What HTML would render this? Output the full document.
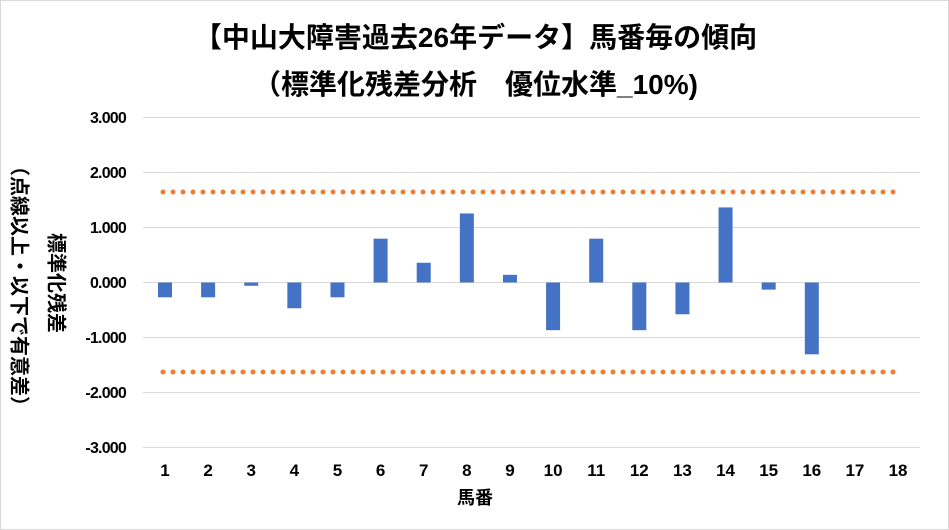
<!DOCTYPE html>
<html><head><meta charset="utf-8"><style>
body{margin:0;background:#fff}
.c{position:relative;width:947px;height:528px;border:1px solid #d9d9d9;overflow:hidden;font-family:"Liberation Sans","Noto Sans CJK JP",sans-serif;font-weight:bold;color:#000}
.t{position:absolute;left:0;width:949px;text-align:center;font-size:28px;line-height:32px}
.v{position:absolute;writing-mode:vertical-rl;text-orientation:sideways;font-size:20px;transform:translate(-50%,-50%);white-space:nowrap}
</style></head><body><div class="c">
<div class="t" style="top:21px">【中山大障害過去26年データ】馬番毎の傾向</div>
<div class="t" style="top:68px">（標準化残差分析　優位水準_10%)</div>
<div class="v" style="left:20px;top:285px">（点線以上・以下で有意差）</div>
<div class="v" style="left:57px;top:282px">標準化残差</div>
<svg width="949" height="530" style="position:absolute;left:-1px;top:-1px" font-family="Liberation Sans, Noto Sans CJK JP, sans-serif" font-weight="bold">
<g stroke="#d9d9d9" stroke-width="1">
<line x1="143" x2="920" y1="117.5" y2="117.5"/><line x1="143" x2="920" y1="172.5" y2="172.5"/><line x1="143" x2="920" y1="227.5" y2="227.5"/><line x1="143" x2="920" y1="282.5" y2="282.5"/><line x1="143" x2="920" y1="337.5" y2="337.5"/><line x1="143" x2="920" y1="392.5" y2="392.5"/><line x1="143" x2="920" y1="447.5" y2="447.5"/>
</g>
<g font-size="16" text-anchor="end" letter-spacing="-0.8">
<text x="126" y="123">3.000</text><text x="126" y="178">2.000</text><text x="126" y="233">1.000</text><text x="126" y="288">0.000</text><text x="126" y="343">-1.000</text><text x="126" y="398">-2.000</text><text x="126" y="453">-3.000</text>
</g>
<g id="bars" fill="#4472c4"></g>
<line x1="163" x2="900" y1="192" y2="192" stroke="#ed7d31" stroke-width="5" stroke-linecap="round" stroke-dasharray="0 10"/>
<line x1="163" x2="900" y1="372" y2="372" stroke="#ed7d31" stroke-width="5" stroke-linecap="round" stroke-dasharray="0 10"/>
<g id="xl" font-size="17" text-anchor="middle"></g>
<text x="475" y="504" font-size="18" text-anchor="middle">馬番</text>
</svg>
<script>
var v=[-0.27,-0.27,-0.06,-0.47,-0.27,0.80,0.36,1.26,0.14,-0.87,0.80,-0.87,-0.58,1.37,-0.13,-1.31,0,0];
var b='',l='';
for(var i=0;i<18;i++){var x=165+i*43.12,h=v[i]*54.8;
if(v[i]!=0)b+='<rect x="'+(x-7)+'" width="14" y="'+(h>0?282.5-h:282.5)+'" height="'+Math.abs(h)+'"/>';
l+='<text x="'+x+'" y="476">'+(i+1)+'</text>';}
document.getElementById('bars').innerHTML=b;document.getElementById('xl').innerHTML=l;
</script>
</div></body></html>
